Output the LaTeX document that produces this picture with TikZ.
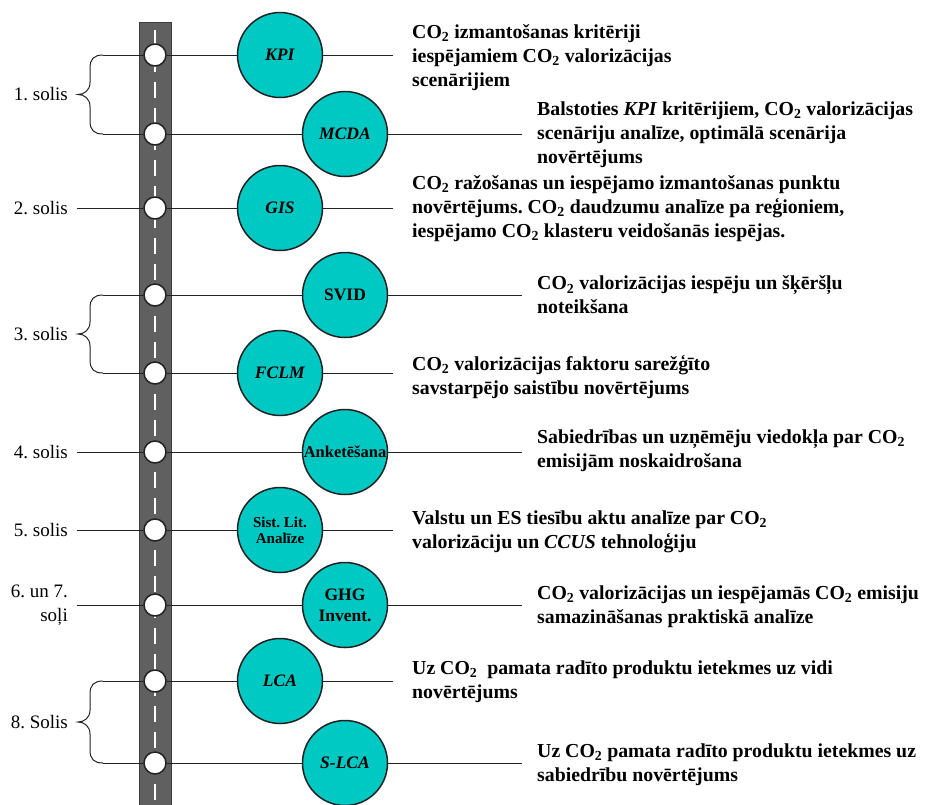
\documentclass[tikz,border=0pt]{standalone}
\usepackage{fontspec}
\setmainfont{Liberation Serif}
\frenchspacing
\definecolor{roadgray}{HTML}{606060}
\definecolor{roadedge}{HTML}{3C3C3C}
\definecolor{methodfill}{HTML}{00C8C2}
\definecolor{inkline}{HTML}{222222}
\newcommand\cotwo{CO\textsubscript{2}}
% curly brace joining two stops of one step; #1 top y, #2 bottom y
\newcommand\stepbrace[2]{%
  \pgfmathsetmacro\ym{(#1+#2)/2}%
  \draw[link] (103,#1) .. controls (94,#1) and (90,#1+4) .. (90,#1+13)
    -- (90,\ym-12) .. controls (90,\ym-4) and (84,\ym) .. (78,\ym)
    .. controls (84,\ym) and (90,\ym+4) .. (90,\ym+12)
    -- (90,#2-13) .. controls (90,#2-4) and (94,#2) .. (103,#2);}
\tikzset{
  road/.style={fill=roadgray, draw=roadedge, line width=1pt},
  lane/.style={draw=white, line width=1.5pt, dash pattern=on 16pt off 10pt},
  stop/.style={circle, draw=inkline, fill=white, line width=1.5pt, minimum size=22pt, inner sep=0pt},
  method/.style={circle, draw=inkline, fill=methodfill, line width=1.5pt, minimum size=85pt,
    inner sep=0pt, align=center, font=\bfseries\fontsize{17.5}{21}\selectfont},
  small/.style={font=\bfseries\fontsize{15}{16}\selectfont},
  wide/.style={font=\bfseries\fontsize{16.5}{18}\selectfont},
  desc/.style={anchor=west, align=left, inner sep=0pt, font=\bfseries\fontsize{19.8}{24}\selectfont},
  steplabel/.style={anchor=east, align=right, inner sep=0pt, font=\fontsize{19}{24}\selectfont},
  link/.style={draw=inkline, line width=1pt},
}
\begin{document}
\begin{tikzpicture}[x=1pt, y=-1pt]
\useasboundingbox (0,0) rectangle (931,804);

% the road with its centre lane marking
\fill[road] (139,22) rectangle (171,812);
\draw[lane] (155,30) -- (155,804);

% stops on the road
\node[stop] (s1) at (155,55) {};
\node[stop] (s2) at (155,134) {};
\node[stop] (s3) at (155,208) {};
\node[stop] (s4) at (155,295) {};
\node[stop] (s5) at (155,373) {};
\node[stop] (s6) at (155,452) {};
\node[stop] (s7) at (155,530) {};
\node[stop] (s8) at (155,605) {};
\node[stop] (s9) at (155,681) {};
\node[stop] (s10) at (155,763) {};

% methods
\node[method] (c1) at (280,55) {\textit{KPI}};
\node[method] (c2) at (345,134) {\textit{MCDA}};
\node[method] (c3) at (280,208) {\textit{GIS}};
\node[method] (c4) at (345,295) {SVID};
\node[method] (c5) at (280,373) {\textit{FCLM}};
\node[method, wide] (c6) at (345,452) {Anketēšana};
\node[method, small] (c7) at (280,530) {Sist. Lit.\\Analīze};
\node[method] (c8) at (345,605) {GHG\\Invent.};
\node[method] (c9) at (280,681) {\textit{LCA}};
\node[method] (c10) at (345,763) {\textit{S-LCA}};

% ends of the lines leading to the descriptions
\coordinate (e1) at (393,55);
\coordinate (e2) at (522,134);
\coordinate (e3) at (393,208);
\coordinate (e4) at (522,295);
\coordinate (e5) at (393,373);
\coordinate (e6) at (522,452);
\coordinate (e7) at (393,530);
\coordinate (e8) at (522,605);
\coordinate (e9) at (393,681);
\coordinate (e10) at (522,763);

% descriptions
\node[desc] (t1) at (412,58) {\cotwo{} izmantošanas kritēriji\\iespējamiem \cotwo{} valorizācijas\\scenārijiem};
\node[desc] (t2) at (537,135) {Balstoties \textit{KPI} kritērijiem, \cotwo{} valorizācijas\\scenāriju analīze, optimālā scenārija\\novērtējums};
\node[desc] (t3) at (412,209) {\cotwo{} ražošanas un iespējamo izmantošanas punktu\\novērtējums. \cotwo{} daudzumu analīze pa reģioniem,\\iespējamo \cotwo{} klasteru veidošanās iespējas.};
\node[desc] (t4) at (537,295) {\cotwo{} valorizācijas iespēju un šķēršļu\\noteikšana};
\node[desc] (t5) at (412,377) {\cotwo{} valorizācijas faktoru sarežģīto\\savstarpējo saistību novērtējums};
\node[desc] (t6) at (537,451) {Sabiedrības un uzņēmēju viedokļa par \cotwo\\emisijām noskaidrošana};
\node[desc] (t7) at (412,532) {Valstu un ES tiesību aktu analīze par \cotwo\\valorizāciju un \textit{CCUS} tehnoloģiju};
\node[desc] (t8) at (537,607) {\cotwo{} valorizācijas un iespējamās \cotwo{} emisiju\\samazināšanas praktiskā analīze};
\node[desc] (t9) at (412,682) {Uz \cotwo\ \ pamata radīto produktu ietekmes uz vidi\\novērtējums};
\node[desc] (t10) at (537,765) {Uz \cotwo{} pamata radīto produktu ietekmes uz\\sabiedrību novērtējums};

% step labels
\node[steplabel] (l1) at (68,94) {1. solis};
\node[steplabel] (l2) at (68,208) {2. solis};
\node[steplabel] (l3) at (68,334) {3. solis};
\node[steplabel] (l4) at (68,452) {4. solis};
\node[steplabel] (l5) at (68,530) {5. solis};
\node[steplabel] (l6) at (68,605) {6. un 7.\\soļi};
\node[steplabel] (l8) at (68,722) {8. Solis};

% braces and stubs from the labels to the stops
\stepbrace{55}{134}
\stepbrace{295}{373}
\stepbrace{681}{763}
\coordinate (b1) at (103,55);
\coordinate (b2) at (103,134);
\coordinate (b4) at (103,295);
\coordinate (b5) at (103,373);
\coordinate (b9) at (103,681);
\coordinate (b10) at (103,763);
\coordinate (a3) at (77,208);
\coordinate (a6) at (77,452);
\coordinate (a7) at (77,530);
\coordinate (a8) at (77,605);

\draw[link] (b1) -- (s1.west);
\draw[link] (b2) -- (s2.west);
\draw[link] (a3) -- (s3.west);
\draw[link] (b4) -- (s4.west);
\draw[link] (b5) -- (s5.west);
\draw[link] (a6) -- (s6.west);
\draw[link] (a7) -- (s7.west);
\draw[link] (a8) -- (s8.west);
\draw[link] (b9) -- (s9.west);
\draw[link] (b10) -- (s10.west);

% lines from stops to methods and on to descriptions
\foreach \i in {1,...,10}{
  \draw[link] (s\i.east) -- (c\i.west);
  \draw[link] (c\i.east) -- (e\i);
}
\end{tikzpicture}
\end{document}
